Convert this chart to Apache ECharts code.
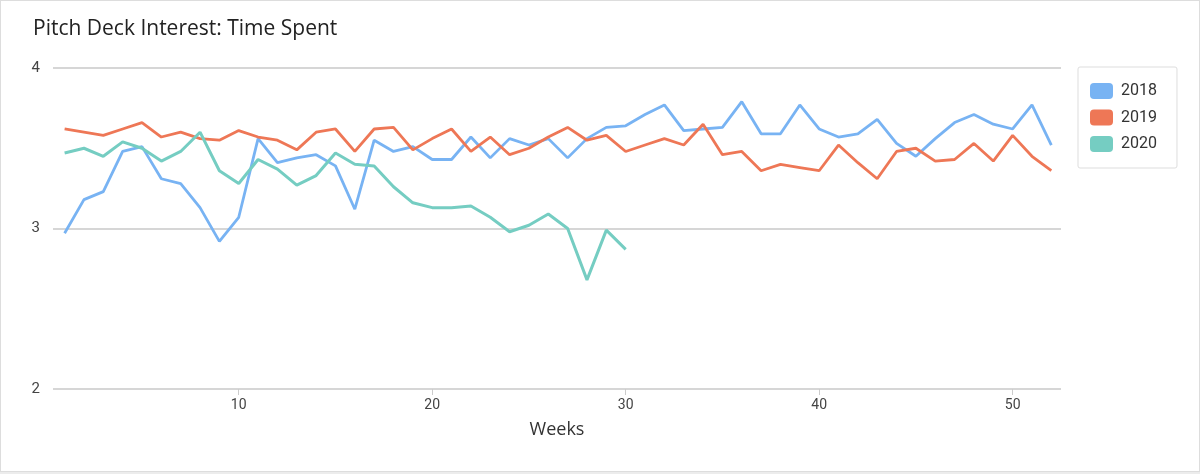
<!DOCTYPE html>
<html>
<head>
<meta charset="utf-8">
<script src="https://cdn.jsdelivr.net/npm/echarts@6/dist/echarts.min.js"></script>
<style>
  html, body { margin: 0; padding: 0; background: #ececec; }
  #chart { position: absolute; left: 0; top: 0; width: 1198px; height: 470px; border: 1px solid #dddddd; background: #ffffff; }
</style>
</head>
<body>
<div id="chart"></div>
<script>
const weeks = [1,2,3,4,5,6,7,8,9,10,11,12,13,14,15,16,17,18,19,20,21,22,23,24,25,26,27,28,29,30,31,32,33,34,35,36,37,38,39,40,41,42,43,44,45,46,47,48,49,50,51,52];
const seriesNames = ['2018', '2019', '2020'];
const values2018 = [2.97,3.18,3.23,3.48,3.51,3.31,3.28,3.13,2.92,3.07,3.56,3.41,3.44,3.46,3.39,3.12,3.55,3.48,3.51,3.43,3.43,3.57,3.44,3.56,3.52,3.56,3.44,3.56,3.63,3.64,3.71,3.77,3.61,3.62,3.63,3.79,3.59,3.59,3.77,3.62,3.57,3.59,3.68,3.53,3.45,3.56,3.66,3.71,3.65,3.62,3.77,3.52];
const values2019 = [3.62,3.60,3.58,3.62,3.66,3.57,3.60,3.56,3.55,3.61,3.57,3.55,3.49,3.60,3.62,3.48,3.62,3.63,3.49,3.56,3.62,3.48,3.57,3.46,3.50,3.57,3.63,3.55,3.58,3.48,3.52,3.56,3.52,3.65,3.46,3.48,3.36,3.40,3.38,3.36,3.52,3.41,3.31,3.48,3.50,3.42,3.43,3.53,3.42,3.58,3.45,3.36];
const values2020 = [3.47,3.50,3.45,3.54,3.50,3.42,3.48,3.60,3.36,3.28,3.43,3.37,3.27,3.33,3.47,3.40,3.39,3.26,3.16,3.13,3.13,3.14,3.07,2.98,3.02,3.09,3.00,2.68,2.99,2.87];
const xTickValues = [10, 20, 30, 40, 50];
const colors = ['#78b3f3', '#ee7756', '#75cdc2'];

function pairs(vals) { return vals.map((v, i) => [weeks[i], v]); }

const chart = echarts.init(document.getElementById('chart'), null, { renderer: 'canvas' });
const fontFamily = 'Roboto, "Noto Sans", sans-serif';
const titleFont = '"Open Sans", Roboto, sans-serif';
chart.setOption({
  animation: false,
  color: colors,
  textStyle: { fontFamily: fontFamily },
  title: {
    text: 'Pitch Deck Interest: Time Spent',
    left: 27, top: 13,
    textStyle: { fontSize: 21, fontWeight: 'normal', color: '#222222', fontFamily: titleFont }
  },
  legend: {
    orient: 'vertical',
    left: 1077, top: 66,
    padding: [16, 20, 16, 12],
    itemWidth: 23, itemHeight: 16, itemGap: 10.5,
    icon: 'roundRect',
    borderColor: '#dddddd', borderWidth: 1, borderRadius: 2,
    textStyle: { fontSize: 16, color: '#333333', fontFamily: fontFamily, padding: [0, 0, 0, 3] },
    data: seriesNames
  },
  grid: { left: 52, right: 138, top: 67, bottom: 82 },
  xAxis: {
    type: 'value',
    min: 0.4, max: 52.5,
    name: 'Weeks', nameLocation: 'middle', nameGap: 32,
    nameTextStyle: { fontSize: 18, color: '#333333', fontFamily: titleFont },
    axisLine: { show: false },
    axisTick: { show: true, customValues: xTickValues, length: 6, lineStyle: { color: '#cccccc' } },
    axisLabel: { customValues: xTickValues, fontSize: 14, color: '#444444', margin: 9, fontFamily: fontFamily },
    splitLine: { show: false }
  },
  yAxis: {
    type: 'value',
    min: 2, max: 4, interval: 1,
    axisLine: { show: false },
    axisTick: { show: false },
    axisLabel: { fontSize: 15, color: '#444444', margin: 13, fontFamily: fontFamily },
    splitLine: { show: true, lineStyle: { color: '#c8c8c8', width: 1.5 } }
  },
  series: [
    { name: seriesNames[0], type: 'line', data: pairs(values2018), showSymbol: false, lineStyle: { width: 2.8 } },
    { name: seriesNames[1], type: 'line', data: pairs(values2019), showSymbol: false, lineStyle: { width: 2.8 } },
    { name: seriesNames[2], type: 'line', data: pairs(values2020), showSymbol: false, lineStyle: { width: 3 } }
  ]
});
</script>
</body>
</html>
